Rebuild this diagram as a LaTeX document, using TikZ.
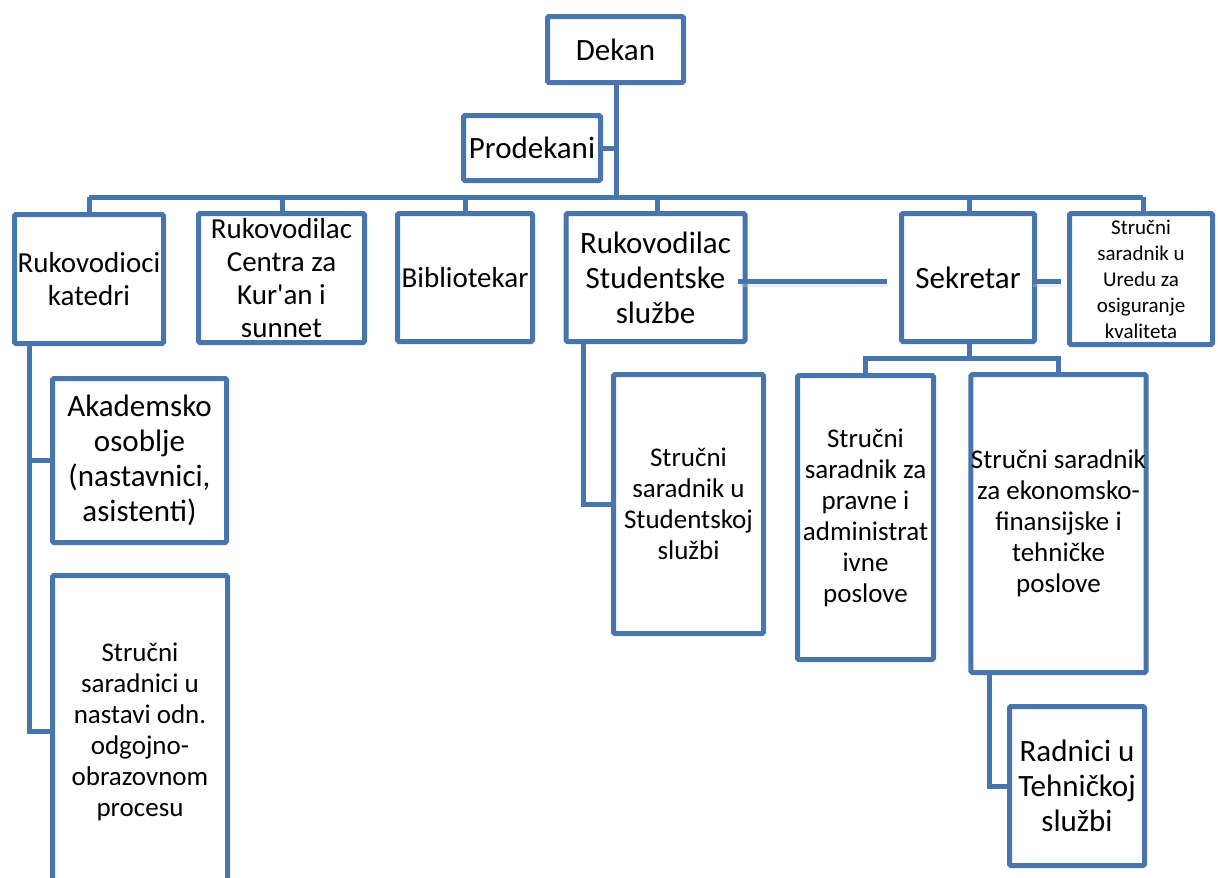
\documentclass[tikz,border=0pt]{standalone}
\usepackage{fontspec}
\setmainfont{Carlito}[Ligatures=TeXOff]
\usetikzlibrary{calc}
\definecolor{obl}{RGB}{72,118,172}
\tikzset{
  box/.style={draw=obl, line width=5pt, fill=white, rounded corners=1.5pt, inner sep=0pt, align=center, text=black},
  big/.style={font=\fontsize{31}{35}\selectfont},
  mid/.style={font=\fontsize{29}{33}\selectfont},
  sml/.style={font=\fontsize{27}{31}\selectfont},
  tiny/.style={font=\fontsize{21}{26}\selectfont},
  conn/.style={draw=obl, line width=5pt},
  shad/.style={draw=black!20, line width=3pt, opacity=0.35}
}
\begin{document}
\begin{tikzpicture}[x=1pt,y=-1pt]
\useasboundingbox (0,0) rectangle (1218,878);
% nodes
\node[box,big,minimum width=136pt,minimum height=66pt] (dekan) at (615.5,49.5) {Dekan};
\node[box,big,minimum width=137pt,minimum height=65pt] (prod) at (532,148) {Prodekani};
\node[box,mid,minimum width=149pt,minimum height=129pt] (rk) at (89,279) {Rukovodioci\\katedri};
\node[box,mid,minimum width=166pt,minimum height=129pt] (rc) at (281.5,278) {Rukovodilac\\Centra za\\Kur'an i\\sunnet};
\node[box,mid,minimum width=135pt,minimum height=128pt] (bib) at (465,277.5) {Bibliotekar};
\node[box,big,minimum width=179pt,minimum height=128pt] (rs) at (655.5,277.5) {Rukovodilac\\Studentske\\službe};
\node[box,big,minimum width=133pt,minimum height=128pt] (sek) at (968,277.5) {Sekretar};
\node[box,tiny,minimum width=143pt,minimum height=131pt] (ured) at (1141,279) {Stručni\\saradnik u\\Uredu za\\osiguranje\\kvaliteta};
\node[box,big,minimum width=174pt,minimum height=164pt] (ak) at (139.5,460.5) {Akademsko\\osoblje\\(nastavnici,\\asistenti)};
\node[box,sml,minimum width=175pt,minimum height=312pt] (ssn) at (140,731.5) {Stručni\\saradnici u\\nastavi odn.\\odgojno-\\obrazovnom\\procesu};
\node[box,sml,minimum width=150pt,minimum height=259pt] (sss) at (688.5,504) {Stručni\\saradnik u\\Studentskoj\\službi};
\node[box,sml,minimum width=136pt,minimum height=284pt] (spa) at (865.5,517.5) {Stručni\\saradnik za\\pravne i\\administrat\\ivne\\poslove};
\node[box,sml,minimum width=174pt,minimum height=298pt] (eko) at (1058.5,523.5) {Stručni saradnik\\za ekonomsko-\\finansijske i\\tehničke\\poslove};
\node[box,big,minimum width=135pt,minimum height=159pt] (rad) at (1077,786) {Radnici u\\Tehničkoj\\službi};
% helper coordinates
\coordinate (bus) at (616,197);
\coordinate (d1) at (89,197);
\coordinate (d2) at (282,197);
\coordinate (d3) at (465,197);
\coordinate (d4) at (657,197);
\coordinate (d5) at (969,197);
\coordinate (d6) at (1143,197);
\coordinate (k1) at (29,0);
\coordinate (k2) at (583,0);
\coordinate (k3) at (989,0);
\coordinate (sj) at (969,358);
\coordinate (a1) at (738,281);
\coordinate (a2) at (887,281);
\coordinate (b1) at (1032,281);
\coordinate (b2) at (1061,281);
% connectors
\draw[conn] (dekan.south -| bus) -- (bus);
\draw[conn] (prod.east) -- (prod.east -| bus);
\draw[conn] (d1) -- (d6);
\draw[conn] (d1) -- (d1 |- rk.north);
\draw[conn] (d2) -- (d2 |- rc.north);
\draw[conn] (d3) -- (d3 |- bib.north);
\draw[conn] (d4) -- (d4 |- rs.north);
\draw[conn] (d5) -- (d5 |- sek.north);
\draw[conn] (d6) -- (d6 |- ured.north);
\draw[conn] (rk.south -| k1) |- (ssn.west);
\draw[conn] (k1 |- ak.west) -- (ak.west);
\draw[conn] (rs.south -| k2) |- (sss.west);
\draw[conn] (sek.south -| sj) -- (sj);
\draw[conn] (spa.north) |- (sj) -| (eko.north);
\draw[conn] (eko.south -| k3) |- (rad.west);
% shadowed links
\draw[shad] ($(a1)+(1,4)$) -- ($(a2)+(1,4)$);
\draw[shad] ($(b1)+(1,4)$) -- ($(b2)+(1,4)$);
\draw[conn] (a1) -- (a2);
\draw[conn] (b1) -- (b2);
\end{tikzpicture}
\end{document}
